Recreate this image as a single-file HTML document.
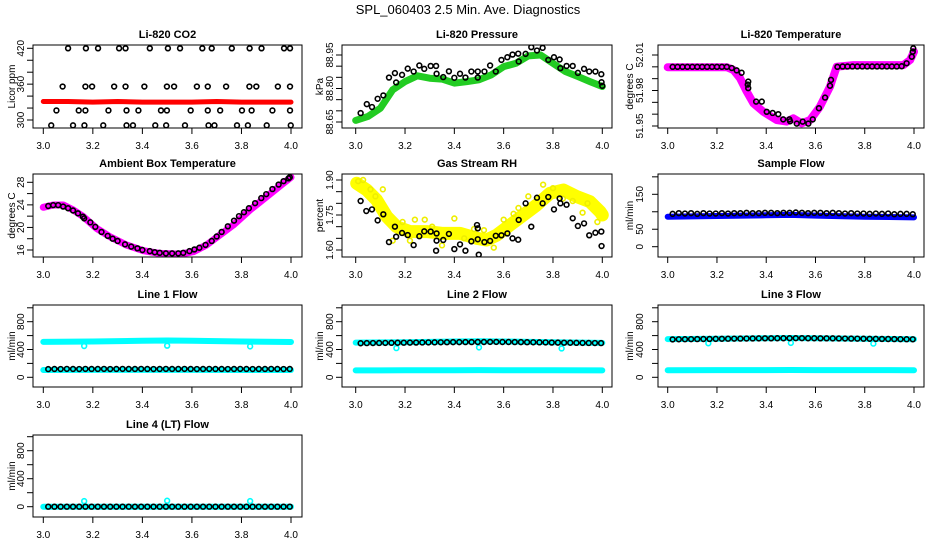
<!DOCTYPE html>
<html><head><meta charset="utf-8"><style>
html,body{margin:0;padding:0;background:#fff;}
svg{display:block;font-family:"Liberation Sans",Arial,sans-serif;}
</style></head><body>
<svg id="chart" width="936" height="540" viewBox="0 0 936 540" xmlns="http://www.w3.org/2000/svg">
<text x="468" y="14" text-anchor="middle" font-size="13">SPL_060403  2.5 Min. Ave. Diagnostics</text>
</svg>
<script>
// ---------- shared data ----------
const xTicks = [3.0, 3.2, 3.4, 3.6, 3.8, 4.0];
const xTickLabels = ["3.0", "3.2", "3.4", "3.6", "3.8", "4.0"];
const timeX = [3.02,3.045,3.07,3.095,3.12,3.145,3.17,3.195,3.22,3.245,3.27,3.295,3.32,3.345,3.37,3.395,3.42,3.445,3.47,3.495,3.52,3.545,3.57,3.595,3.62,3.645,3.67,3.695,3.72,3.745,3.77,3.795,3.82,3.845,3.87,3.895,3.92,3.945,3.97,3.995];

// Li-820 CO2
const co2X = [3.100,3.172,3.221,3.306,3.332,3.430,3.503,3.552,3.642,3.680,3.761,3.833,3.881,3.972,3.996,
 3.078,3.170,3.197,3.286,3.332,3.408,3.499,3.528,3.620,3.664,3.738,3.832,3.860,3.947,3.996,
 3.053,3.143,3.170,3.263,3.336,3.384,3.475,3.499,3.595,3.664,3.714,3.802,3.841,3.925,3.996,
 3.032,3.120,3.166,3.242,3.336,3.362,3.452,3.496,3.572,3.667,3.691,3.782,3.826,3.902,3.999];
const co2Y = [420,420,420,420,420,420,420,420,420,420,420,420,420,420,420,
 356,356,356,356,356,356,356,356,356,356,356,356,356,356,356,
 316,316,316,316,316,316,316,316,316,316,316,316,316,316,316,
 291,291,291,291,291,291,291,291,291,291,291,291,291,291,291];
const co2BandX = [3.0,3.1,3.2,3.3,3.4,3.5,3.6,3.7,3.8,3.9,4.0];
const co2BandY = [331,331,330,331,330,330,330,331,330,330,330];
const co2Ticks = [300,320,340,360,380,400,420];
const co2Labels = ["300","","","360","","","420"];

// Li-820 Pressure
const presX = [3.020,3.045,3.066,3.089,3.112,3.135,3.159,3.164,3.188,3.211,3.235,3.258,3.278,3.304,3.326,3.328,3.355,3.378,3.400,3.423,3.445,3.469,3.495,3.495,3.522,3.545,3.568,3.591,3.615,3.636,3.659,3.661,3.689,3.712,3.735,3.758,3.781,3.804,3.827,3.830,3.855,3.880,3.901,3.926,3.947,3.972,3.996,3.997,4.000];
const presY = [88.690,88.730,88.717,88.754,88.769,88.849,88.869,88.827,88.861,88.889,88.876,88.903,88.888,88.901,88.901,88.866,88.851,88.877,88.848,88.866,88.849,88.876,88.876,88.849,88.876,88.903,88.876,88.928,88.940,88.952,88.956,88.921,88.955,88.985,88.970,88.982,88.928,88.940,88.930,88.891,88.901,88.901,88.870,88.888,88.876,88.876,88.864,88.828,88.812];
const presBandX = [3.0,3.05,3.1,3.15,3.2,3.25,3.3,3.35,3.4,3.45,3.5,3.55,3.6,3.65,3.7,3.75,3.8,3.85,3.9,3.95,4.0];
const presBandY = [88.657,88.675,88.712,88.794,88.831,88.857,88.846,88.842,88.824,88.831,88.839,88.861,88.898,88.913,88.946,88.950,88.913,88.876,88.854,88.831,88.809];
const presTicks = [88.65,88.70,88.75,88.80,88.85,88.90,88.95];
const presLabels = ["88.65","","","88.80","","","88.95"];

// Li-820 Temperature
const tempX = [3.02,3.04,3.06,3.08,3.10,3.12,3.14,3.16,3.18,3.20,3.22,3.24,3.26,3.28,3.300,3.327,3.325,3.327,3.359,3.382,3.402,3.426,3.449,3.469,3.494,3.497,3.524,3.548,3.571,3.589,3.614,3.639,3.659,3.663,3.689,3.71,3.73,3.75,3.77,3.79,3.81,3.83,3.85,3.87,3.89,3.91,3.93,3.95,3.970,3.991,3.995,3.997];
const tempY = [52.000,52.000,52.000,52.000,52.000,52.000,52.000,52.000,52.000,52.000,52.000,52.000,51.999,51.997,51.995,51.9875,51.985,51.982,51.9706,51.9706,51.962,51.961,51.960,51.9556,51.9556,51.954,51.952,51.9537,51.952,51.9556,51.965,51.974,51.984,51.989,52.000,52.0003,52.0003,52.0003,52.0003,52.0003,52.0003,52.0003,52.0003,52.0003,52.0003,52.0003,52.0003,52.0005,52.003,52.0085,52.0128,52.0156];
const tempBandX = [3.0,3.24,3.267,3.294,3.321,3.348,3.388,3.442,3.483,3.510,3.544,3.578,3.618,3.659,3.686,3.754,3.957,3.984,4.0];
const tempBandY = [51.9997,51.9997,51.9973,51.9903,51.979,51.9692,51.9621,51.9551,51.9537,51.9565,51.9523,51.9551,51.9663,51.9832,52.0001,52.0015,52.0015,52.0058,52.0128];
const tempTicks = [51.95,51.96,51.97,51.98,51.99,52.00,52.01];
const tempLabels = ["51.95","","","51.98","","","52.01"];

// Ambient Box Temperature
const ambX = [3.02,3.04,3.06,3.08,3.10,3.12,3.14,3.16,3.165,3.19,3.21,3.235,3.26,3.28,3.30,3.33,3.355,3.38,3.40,3.43,3.45,3.47,3.495,3.52,3.545,3.565,3.59,3.61,3.63,3.655,3.68,3.70,3.72,3.745,3.77,3.79,3.81,3.83,3.855,3.88,3.90,3.925,3.95,3.97,3.99,3.995];
const ambY = [23.8,23.95,23.95,23.7,23.4,23.0,22.5,21.9,21.6,20.9,20.1,19.2,18.5,18.0,17.6,17.0,16.6,16.3,16.0,15.8,15.6,15.5,15.4,15.4,15.4,15.5,15.8,16.1,16.4,16.9,17.6,18.4,19.2,20.2,21.2,22.0,22.7,23.4,24.3,25.2,25.9,26.8,27.6,28.2,28.7,28.9];
const ambBandX = [3.0,3.040,3.081,3.121,3.162,3.215,3.269,3.336,3.404,3.471,3.552,3.606,3.659,3.713,3.767,3.834,3.902,3.969,4.0];
const ambBandY = [23.56,23.98,23.98,23.09,21.91,19.83,18.36,16.88,15.87,15.40,15.28,15.69,16.88,18.65,20.43,23.09,25.46,27.82,28.89];
const ambTicks = [16,18,20,22,24,26,28];
const ambLabels = ["16","","20","","24","","28"];

// Gas Stream RH
const rhX = [3.020,3.043,3.066,3.089,3.112,3.135,3.159,3.164,3.188,3.211,3.235,3.258,3.278,3.304,3.326,3.328,3.328,3.355,3.378,3.400,3.423,3.445,3.469,3.492,3.495,3.495,3.499,3.522,3.545,3.568,3.591,3.615,3.636,3.659,3.661,3.689,3.712,3.735,3.758,3.781,3.804,3.827,3.830,3.855,3.880,3.901,3.926,3.947,3.972,3.996,3.997];
const rhY = [1.810,1.767,1.774,1.727,1.753,1.634,1.700,1.657,1.673,1.664,1.621,1.659,1.680,1.679,1.597,1.671,1.640,1.643,1.669,1.604,1.624,1.597,1.637,1.707,1.693,1.646,1.580,1.634,1.639,1.661,1.663,1.671,1.650,1.644,1.729,1.800,1.700,1.824,1.800,1.827,1.774,1.821,1.800,1.794,1.736,1.703,1.714,1.663,1.674,1.679,1.617];
const rhBandX = [3.004,3.045,3.085,3.126,3.166,3.220,3.288,3.355,3.423,3.491,3.531,3.572,3.626,3.680,3.734,3.788,3.842,3.896,3.950,3.991,4.0];
const rhBandY = [1.886,1.857,1.814,1.743,1.700,1.679,1.679,1.671,1.671,1.650,1.643,1.664,1.707,1.750,1.793,1.843,1.857,1.829,1.807,1.764,1.750];
const rhScatterX = [3.01,3.03,3.06,3.08,3.11,3.19,3.24,3.28,3.31,3.40,3.48,3.52,3.56,3.64,3.70,3.76,3.80,3.84,3.88,3.94,3.15,3.22,3.35,3.44,3.60,3.66,3.92,3.98];
const rhScatterY = [1.895,1.900,1.860,1.830,1.860,1.720,1.730,1.730,1.700,1.735,1.690,1.685,1.610,1.755,1.830,1.880,1.865,1.820,1.810,1.800,1.640,1.640,1.620,1.650,1.730,1.780,1.760,1.720];
const rhTicks = [1.60,1.65,1.70,1.75,1.80,1.85,1.90];
const rhLabels = ["1.60","","","1.75","","","1.90"];

// Sample Flow
const sampY = [94,96,95,96,94,96,95,95,96,95,96,96,97,96,96,97,97,96,97,97,98,97,96,97,97,96,97,96,95,96,95,95,94,95,94,95,93,94,94,93];
const sampBandX = [3.0,3.2,3.4,3.5,3.6,3.8,4.0];
const sampBandY = [86,88,90,91,89,86,84];
const sampTicks = [0,50,100,150,200];
const sampLabels = ["0","50","","150",""];

// Flow lines (ml/min)
const flowTicks = [0,200,400,600,800,1000];
const flowLabels = ["0","","400","","800",""];
const flowBandX = [3.0,3.2,3.4,3.5,3.6,3.8,4.0];
const dipX = [3.165,3.5,3.835];
const line1Black = [118,120,119,121,120,119,121,120,120,121,119,120,121,120,120,121,120,119,120,121,120,120,121,120,119,120,121,120,120,119,120,121,120,119,120,120,121,120,119,120];
const line1Upper = [510,515,525,530,525,515,508];
const line1Lower = [105,106,106,107,106,105,105];
const line1Dips = [450,455,445];
const line2Black = [490,492,493,494,495,496,497,498,499,500,501,502,503,504,505,506,506,507,507,508,508,509,509,508,508,507,506,505,504,503,502,500,499,498,497,496,495,494,493,492];
const line2Upper = [500,505,515,520,515,505,495];
const line2Lower = [100,101,102,103,102,101,100];
const line2Dips = [420,430,415];
const line3Black = [545,547,548,549,550,551,552,553,554,555,556,557,558,559,560,561,561,562,562,563,563,563,562,562,561,561,560,559,558,557,556,555,554,553,552,551,550,549,548,547];
const line3Upper = [550,555,562,566,562,555,548];
const line3Lower = [102,103,104,105,104,103,102];
const line3Dips = [490,495,485];
const line4Black = [0,0,0,0,0,0,0,0,0,0,0,0,0,0,0,0,0,0,0,0,0,0,0,0,0,0,0,0,0,0,0,0,0,0,0,0,0,0,0,0];
const line4Upper = [0,0,0,0,0,0,0];
const line4Dips = [80,85,80];

// ---------- drawing ----------
const NS = "http://www.w3.org/2000/svg";
const svg = document.getElementById("chart");
function mk(tag, parent, attrs) {
  const e = document.createElementNS(NS, tag);
  for (const k in attrs) e.setAttribute(k, attrs[k]);
  parent.appendChild(e);
  return e;
}
function linScale(d0, p0, d1, p1) { return v => p0 + (v - d0) * (p1 - p0) / (d1 - d0); }

const cols = [
  {bx0: 33, bx1: 302, x3: 43.3, x4: 291, tl: 20, tt: 11},
  {bx0: 342, bx1: 612, x3: 355.7, x4: 602.3, tl: 329, tt: 319},
  {bx0: 658, bx1: 924, x3: 667.7, x4: 914, tl: 639, tt: 629}
];
const rows = [{t: 45, b: 128}, {t: 174, b: 257}, {t: 305, b: 387}, {t: 435, b: 517}];

function makePanel(name, title, ytitle, col, row, yv0, yp0, yv1, yp1, yTicks, yLabels) {
  const c = cols[col], r = rows[row];
  const g = mk("g", svg, {});
  
  
  const sx = linScale(3.0, c.x3, 4.0, c.x4);
  const sy = linScale(yv0, yp0, yv1, yp1);
  const clipId = "clip-" + name;
  const cp = mk("clipPath", g, {id: clipId});
  mk("rect", cp, {x: c.bx0, y: r.t, width: c.bx1 - c.bx0, height: r.b - r.t});
  const plot = mk("g", g, {"clip-path": "url(#" + clipId + ")"});
  
  
  const box = mk("rect", g, {x: c.bx0, y: r.t, width: c.bx1 - c.bx0, height: r.b - r.t, fill: "none", stroke: "#000", "stroke-width": 1});
  
  
  const tt = mk("text", g, {x: (c.bx0 + c.bx1) / 2, y: r.t - 7, "text-anchor": "middle", "font-size": 11, "font-weight": "bold"});
  tt.textContent = title;
  
  
  const xa = mk("g", g, {});
  
  
  mk("line", xa, {x1: sx(xTicks[0]), x2: sx(xTicks[xTicks.length - 1]), y1: r.b, y2: r.b, stroke: "#000"});
  xTicks.forEach((v, i) => {
    mk("line", xa, {x1: sx(v), x2: sx(v), y1: r.b, y2: r.b + 6, stroke: "#000"});
    const t = mk("text", xa, {x: sx(v), y: r.b + 21, "text-anchor": "middle", "font-size": 10});
    t.textContent = xTickLabels[i];
    
    
  });
  const ya = mk("g", g, {});
  
  
  mk("line", ya, {x1: c.bx0, x2: c.bx0, y1: sy(yTicks[0]), y2: sy(yTicks[yTicks.length - 1]), stroke: "#000"});
  yTicks.forEach((v, i) => {
    mk("line", ya, {x1: c.bx0 - 6, x2: c.bx0, y1: sy(v), y2: sy(v), stroke: "#000"});
    if (yLabels[i]) {
      const t = mk("text", ya, {x: 0, y: 0, "text-anchor": "middle", "font-size": 10, transform: "translate(" + (c.tl + 4) + "," + sy(v) + ") rotate(-90)"});
      t.textContent = yLabels[i];
      
      
    }
  });
  const yt = mk("text", g, {x: 0, y: 0, "text-anchor": "middle", "font-size": 10, transform: "translate(" + (c.tt + 4) + "," + ((r.t + r.b) / 2) + ") rotate(-90)"});
  yt.textContent = ytitle;
  
  
  return {plot, sx, sy};
}
function band(p, xs, ys, color, w, name) {
  let d = "";
  xs.forEach((x, i) => { d += (i ? "L" : "M") + p.sx(x).toFixed(1) + "," + p.sy(ys[i]).toFixed(1); });
  const e = mk("path", p.plot, {d: d, fill: "none", stroke: color, "stroke-width": w, "stroke-linejoin": "round", "stroke-linecap": "round"});
  
  
}
function points(p, xs, ys, color, name, rad, sw) {
  const g = mk("g", p.plot, {});
  
  
  xs.forEach((x, i) => {
    const c = mk("circle", g, {cx: p.sx(x), cy: p.sy(ys[i]), r: rad || 2.4, fill: "none", stroke: color, "stroke-width": sw || 1.6});
    
    
  });
}

let p = makePanel("co2", "Li-820 CO2", "Licor ppm", 0, 0, 420, 48.3, 300, 120, co2Ticks, co2Labels);
band(p, co2BandX, co2BandY, "#ff0000", 5, "co2-red-series");
points(p, co2X, co2Y, "#000", "co2-black-series");

p = makePanel("pressure", "Li-820 Pressure", "kPa", 1, 0, 88.95, 55, 88.65, 122, presTicks, presLabels);
band(p, presBandX, presBandY, "#22cc22", 7, "pressure-green-series");
points(p, presX, presY, "#000", "pressure-black-series");

p = makePanel("li820-temp", "Li-820 Temperature", "degrees C", 2, 0, 52.01, 55, 51.95, 126, tempTicks, tempLabels);
band(p, tempBandX, tempBandY, "#ff00ff", 8, "li820-temp-magenta-series");
points(p, tempX, tempY, "#000", "li820-temp-black-series");

p = makePanel("ambient", "Ambient Box Temperature", "degrees C", 0, 1, 28, 182.3, 16, 250, ambTicks, ambLabels);
band(p, ambBandX, ambBandY, "#ff00ff", 7, "ambient-magenta-series");
points(p, ambX, ambY, "#000", "ambient-black-series");

p = makePanel("rh", "Gas Stream RH", "percent", 1, 1, 1.90, 180, 1.60, 250, rhTicks, rhLabels);
band(p, rhBandX, rhBandY, "#ffff00", 13, "rh-yellow-series");
points(p, rhScatterX, rhScatterY, "#eeee00", "rh-yellow-scatter");
points(p, rhX, rhY, "#000", "rh-black-series");

p = makePanel("sample-flow", "Sample Flow", "ml/min", 2, 1, 150, 194.3, 0, 246.7, sampTicks, sampLabels);
band(p, sampBandX, sampBandY, "#0000ff", 6, "sample-flow-blue-series");
points(p, timeX, sampY, "#000", "sample-flow-black-series");

p = makePanel("line1", "Line 1 Flow", "ml/min", 0, 2, 800, 321.7, 0, 377.3, flowTicks, flowLabels);
band(p, flowBandX, line1Upper, "#00ffff", 6, "line1-cyan-upper");
band(p, flowBandX, line1Lower, "#00ffff", 6, "line1-cyan-lower");
points(p, dipX, line1Dips, "#00ffff", "line1-cyan-dips");
points(p, timeX, line1Black, "#000", "line1-black-series");

p = makePanel("line2", "Line 2 Flow", "ml/min", 1, 2, 800, 321.7, 0, 377.3, flowTicks, flowLabels);
band(p, flowBandX, line2Upper, "#00ffff", 6, "line2-cyan-upper");
band(p, flowBandX, line2Lower, "#00ffff", 6, "line2-cyan-lower");
points(p, dipX, line2Dips, "#00ffff", "line2-cyan-dips");
points(p, timeX, line2Black, "#000", "line2-black-series");

p = makePanel("line3", "Line 3 Flow", "ml/min", 2, 2, 800, 321.7, 0, 377.3, flowTicks, flowLabels);
band(p, flowBandX, line3Upper, "#00ffff", 6, "line3-cyan-upper");
band(p, flowBandX, line3Lower, "#00ffff", 6, "line3-cyan-lower");
points(p, dipX, line3Dips, "#00ffff", "line3-cyan-dips");
points(p, timeX, line3Black, "#000", "line3-black-series");

p = makePanel("line4", "Line 4 (LT) Flow", "ml/min", 0, 3, 800, 450.7, 0, 506.7, flowTicks, flowLabels);
band(p, flowBandX, line4Upper, "#00ffff", 6, "line4-cyan-series");
points(p, dipX, line4Dips, "#00ffff", "line4-cyan-dips");
points(p, timeX, line4Black, "#000", "line4-black-series");
</script>
</body></html>
